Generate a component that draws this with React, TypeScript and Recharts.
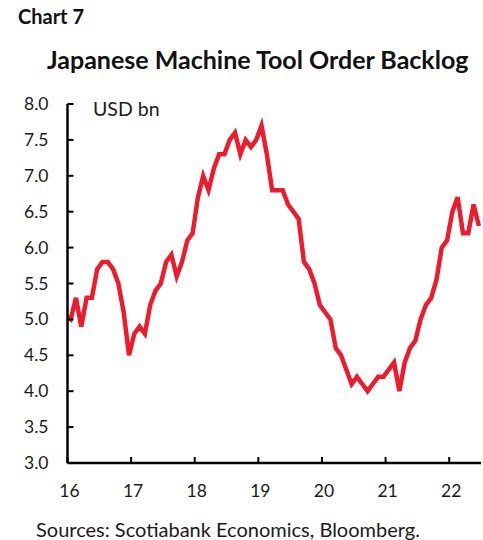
import React from 'react';
import { LineChart, Line, XAxis, YAxis } from 'recharts';

// monthly backlog, USD bn, starting Dec 2015 (first point sits just left of the axis and is clipped)
const backlog = [
  5.05,
  5.0, 5.3, 4.9, 5.3, 5.3, 5.7, 5.8, 5.8, 5.7, 5.5, 5.1, 4.5, // 2016
  4.8, 4.9, 4.8, 5.2, 5.4, 5.5, 5.8, 5.9, 5.6, 5.8, 6.1, 6.2, // 2017
  6.7, 7.0, 6.8, 7.1, 7.3, 7.3, 7.5, 7.6, 7.3, 7.5, 7.4, 7.5, // 2018
  7.7, 7.3, 6.8, 6.8, 6.8, 6.6, 6.5, 6.4, 5.8, 5.7, 5.5, 5.2, // 2019
  5.1, 5.0, 4.6, 4.5, 4.3, 4.1, 4.2, 4.1, 4.0, 4.1, 4.2, 4.2, // 2020
  4.3, 4.4, 4.0, 4.4, 4.6, 4.7, 5.0, 5.2, 5.3, 5.55, 6.0, 6.1, // 2021
  6.5, 6.7, 6.2, 6.2, 6.6, 6.3, // 2022
];
const yearTicks = [16, 17, 18, 19, 20, 21, 22];
const valueTicks = [3.0, 3.5, 4.0, 4.5, 5.0, 5.5, 6.0, 6.5, 7.0, 7.5, 8.0];

const data = backlog.map((v, i) => ({ t: 16 + (i - 1 + 0.6) / 12, v }));

const FONT = 'Lato, "DejaVu Sans", sans-serif';
const RED = '#ec1c2e';

const YTick = ({ x, y, payload }: any) => (
  <g>
    <line x1={x} x2={x + 6} y1={y} y2={y} stroke="#000" strokeWidth={2} />
    <text x={x - 19} y={y + 6} textAnchor="end" fontFamily={FONT} fontSize={17.5} fill="#1a1a1a">
      {payload.value.toFixed(1)}
    </text>
  </g>
);

const XTick = ({ x, y, payload }: any) => (
  <g>
    <line x1={x} x2={x} y1={y - 6} y2={y} stroke="#000" strokeWidth={2} />
    <text x={x + 2} y={y + 34} textAnchor="middle" fontFamily={FONT} fontSize={17.5} fill="#1a1a1a">
      {payload.value}
    </text>
  </g>
);

export default function App() {
  return (
    <div style={{ position: 'fixed', left: 0, top: 0, width: 483, height: 540, background: '#fff', overflow: 'hidden' }}>
      <div style={{ position: 'absolute', left: 0, top: 0 }}>
        <LineChart width={483} height={540} data={data} margin={{ top: 104, right: 2, left: 0, bottom: 0 }}>
          <XAxis
            dataKey="t"
            type="number"
            domain={[16, 22.5]}
            allowDataOverflow
            ticks={yearTicks}
            tick={<XTick />}
            tickLine={false}
            tickSize={0}
            tickMargin={0}
            height={77}
            axisLine={{ stroke: '#000', strokeWidth: 2.5 }}
          />
          <YAxis
            type="number"
            domain={[3, 8]}
            ticks={valueTicks}
            tick={<YTick />}
            tickLine={false}
            tickSize={0}
            tickMargin={0}
            width={67.5}
            axisLine={{ stroke: '#000', strokeWidth: 2.5 }}
          />
          <Line
            type="linear"
            dataKey="v"
            stroke={RED}
            strokeWidth={4.5}
            dot={false}
            isAnimationActive={false}
          />
        </LineChart>
      </div>
      <svg width={483} height={540} style={{ position: 'absolute', left: 0, top: 0, pointerEvents: 'none' }}>
        <text x={18} y={24} fontFamily={FONT} fontWeight={700} fontSize={20} fill="#111">Chart 7</text>
        <text x={47} y={69} fontFamily={FONT} fontWeight={700} fontSize={25} fill="#111">
          Japanese Machine Tool Order Backlog
        </text>
        <text x={93} y={116} fontFamily={FONT} fontSize={19.5} fill="#1a1a1a">USD bn</text>
        <text x={36} y={537} fontFamily={FONT} fontSize={20} fill="#1a1a1a">
          Sources: Scotiabank Economics, Bloomberg.
        </text>
      </svg>
    </div>
  );
}
